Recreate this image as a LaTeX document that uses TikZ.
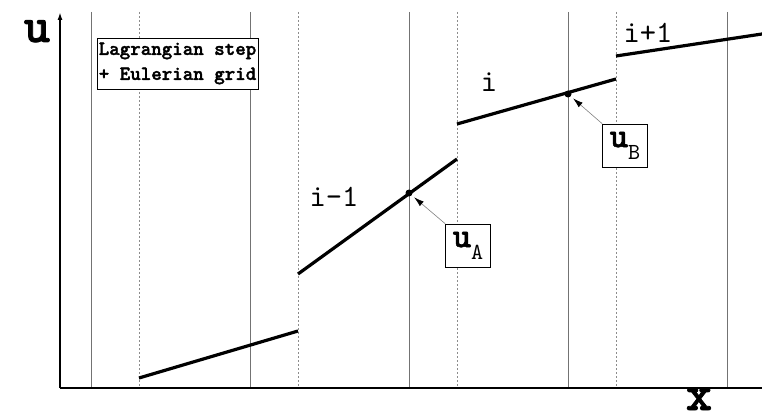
\documentclass[tikz,border=0pt]{standalone}
\usepackage{fontspec}
\setmonofont{lmmono10-regular.otf}[BoldFont=lmmonolt10-bold.otf, BoldFeatures={FakeBold=1.6}]
\usetikzlibrary{arrows.meta}
\tikzset{
  lg/.style={x=1pt, y=-1pt},
  lg axis/.style={line width=1.8pt},
  lg cell/.style={black!55, line width=0.6pt},
  lg face/.style={black!45, line width=0.6pt, dash pattern=on 2pt off 2pt},
  lg seg/.style={line width=3.2pt},
  lg dot/.style={circle, fill, inner sep=0pt, minimum size=7pt},
  lg note/.style={draw, fill=white, line width=0.6pt, align=left, inner sep=0pt,
                  minimum width=161pt, minimum height=51pt,
                  font=\ttfamily\bfseries\fontsize{20}{25}\selectfont},
  lg box/.style={draw, fill=white, line width=0.6pt, inner sep=0pt,
                 minimum width=45pt, minimum height=43pt},
  lg lab/.style={font=\ttfamily\fontsize{31}{31}\selectfont, anchor=base},
  lg big/.style={font=\ttfamily\bfseries\fontsize{50}{50}\selectfont, anchor=base,
                 inner sep=0pt},
  lg arr/.style={-{Latex[length=10pt, width=6pt, black]}, black!50, line width=0.6pt,
                 shorten >=3pt},
}
\newcommand{\ulab}[1]{{\ttfamily\fontsize{35}{35}\selectfont\bfseries u}%
  {\ttfamily\fontsize{23}{23}\selectfont\raisebox{-12pt}{#1}}}

\begin{document}
\begin{tikzpicture}[lg]
\useasboundingbox (0,0) rectangle (762,419);
% ---- Eulerian grid ----
\foreach \gx in {91,250,409,568,727} \draw[lg cell] (\gx,12) -- (\gx,388);
\foreach \gx in {139,298,457,616} \draw[lg face] (\gx,12) -- (\gx,388);
% ---- axes ----
\draw[lg axis, -{Latex[length=8pt, width=5pt]}] (60,388) -- (60,12);
\draw[lg axis] (60,388) -- (762,388);
\node[lg big] (ulab) at (37,42) {u};
\node[lg big] (xlab) at (699,410) {x};
% ---- Lagrangian cells ----
\draw[lg seg] (139,378) -- (298,331);
\draw[lg seg] (298,274) -- (457,159);
\draw[lg seg] (457,124) -- (616,79);
\draw[lg seg] (616,56) -- (762,34);
\node[lg lab] (lm) at (334,207) {i-1};
\node[lg lab] (li) at (489,92) {i};
\node[lg lab] (lp) at (648,43) {i+1};
% ---- sample points ----
\node[lg dot] (pA) at (409,193) {};
\node[lg dot] (pB) at (568,94) {};
\node[lg box] (uA) at (468,245.5) {\ulab{A}};
\node[lg box] (uB) at (625,145.5) {\ulab{B}};
\draw[lg arr] (uA.north west) -- (pA);
\draw[lg arr] (uB.north west) -- (pB);
% ---- note ----
\node[lg note] (note) at (177.5,63.5) {Lagrangian step\\+ Eulerian grid};
\end{tikzpicture}
\end{document}
